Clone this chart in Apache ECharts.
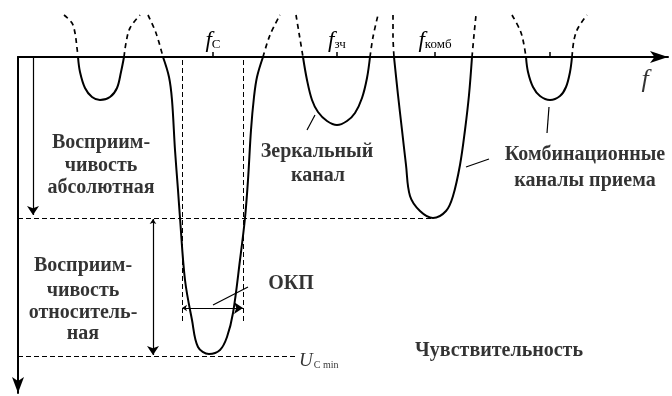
<!DOCTYPE html>
<html><head><meta charset="utf-8">
<script src="https://cdn.jsdelivr.net/npm/echarts@6/dist/echarts.min.js"></script>
<style>html,body{margin:0;padding:0;background:#fff}#c{width:672px;height:396px}</style>
</head><body><div id="c"></div>
<script>
// x: relative frequency units, y: attenuation depth below the frequency axis (downwards)
const ch1Solid = [[60,0],[62,15],[67,31],[74,40],[82,43],[92,40],[99,31],[103,15],[106,0]];
const ch1DashL = [[46,-42],[54,-34],[57,-24],[59,-9],[60,0]];
const ch1DashR = [[106,0],[108,-14],[112,-29],[122,-42]];

const mainSolid = [[145,0],[151,20],[154,43],[157,93],[160,133],[162,161],[167,223],[174,263],[180,290],[191,297],[202,293],[209,280],[215,256],[222,203],[227,161],[230,123],[233,73],[236,40],[239,20],[245,0]];
const mainDashL = [[130,-42],[138,-24],[145,0]];
const mainDashR = [[245,0],[252,-22],[262,-42]];

const mirSolid = [[285,0],[289,23],[294,43],[300,55],[309,64],[319,68],[329,64],[337,56],[344,41],[349,21],[352,0]];
const mirDashL = [[278,-42],[281,-24],[285,0]];
const mirDashR = [[352,0],[355,-20],[360,-42]];

const combSolid = [[376,0],[380,38],[384,73],[388,108],[392,139],[402,154],[415,161],[428,154],[435,139],[442,108],[447,73],[451,38],[454,0]];
const combDashL = [[375,-42],[375,-22],[376,0]];
const combDashR = [[454,0],[456,-22],[458,-42]];

const ch2Solid = [[508,0],[510,15],[515,30],[522,39],[532,43],[542,39],[548,30],[552,15],[554,0]];
const ch2DashL = [[494,-42],[502,-27],[505,-17],[508,0]];
const ch2DashR = [[554,0],[556,-17],[560,-29],[569,-42]];

const freqTicks = [195, 319, 417, 532];
const freqLabelValues = [195, 319, 417];
const freqLabelSubs = ['С', 'зч', 'комб'];

const absLevel = 161;   // absolute receptivity level
const minLevel = 299;   // U_C min level
const okpLeft = 164, okpRight = 225, okpY = 251, okpBottom = 265;

const dashedRefLines = [
  [[0, absLevel], [415, absLevel]],
  [[0, minLevel], [277, minLevel]],
  [[okpLeft, 3], [okpLeft, okpBottom]],
  [[okpRight, 3], [okpRight, okpBottom]]
];
const singleArrows = [[[15, 0], [15, 158]]];
const doubleArrows = [
  [[135, 162], [135, 298]],
  [[okpLeft, okpY], [okpRight, okpY]]
];
const leaders = [
  [[289, 73], [297, 58]],
  [[448, 110], [471, 102]],
  [[531, 50], [529, 76]],
  [[195, 248], [230, 230]]
];

const textNotes = [
  [83, 86, 'Восприим-'], [83, 109, 'чивость'], [83, 131, 'абсолютная'],
  [65, 209, 'Восприим-'], [65, 234, 'чивость'], [65, 256, 'относитель-'], [65, 277, 'ная'],
  [299, 95, 'Зеркальный'], [300, 119, 'канал'],
  [567, 98, 'Комбинационные'], [567, 124, 'каналы приема'],
  [273, 227, 'ОКП'],
  [481, 294, 'Чувствительность']
];
const umin = [281, 304];
const fLabel = [627, 23];

const serif = '"Liberation Serif", "DejaVu Serif", serif';
const black = '#000';

function solid(d){ return {type:'line', data:d, smooth:0.35, symbol:'none', clip:false, lineStyle:{color:black, width:2}, z:3}; }
function dashed(d){ return {type:'line', data:d, smooth:0.35, symbol:'none', clip:false, lineStyle:{color:black, width:1.7, type:[5,4]}, z:3}; }
function toLines(arr){ return arr.map(p => ({coords: p})); }

const series = [
  solid(ch1Solid), dashed(ch1DashL), dashed(ch1DashR),
  solid(mainSolid), dashed(mainDashL), dashed(mainDashR),
  solid(mirSolid), dashed(mirDashL), dashed(mirDashR),
  solid(combSolid), dashed(combDashL), dashed(combDashR),
  solid(ch2Solid), dashed(ch2DashL), dashed(ch2DashR),
  {type:'lines', coordinateSystem:'cartesian2d', data:toLines(dashedRefLines), symbol:'none', lineStyle:{color:black, width:1, type:[5,3], opacity:1}, z:2},
  {type:'lines', coordinateSystem:'cartesian2d', data:toLines(singleArrows), symbol:['none','arrow'], symbolSize:[5,9], lineStyle:{color:black, width:1.2, opacity:1}, z:2},
  {type:'lines', coordinateSystem:'cartesian2d', data:toLines(doubleArrows), symbol:['arrow','arrow'], symbolSize:[5,9], lineStyle:{color:black, width:1.2, opacity:1}, z:2},
  {type:'lines', coordinateSystem:'cartesian2d', data:toLines(leaders), symbol:'none', lineStyle:{color:black, width:1.2, opacity:1}, z:2},
  {type:'scatter', symbolSize:0, silent:true, z:5,
    data: textNotes.map(t => ({value:[t[0], t[1]], name:t[2]})),
    label:{show:true, position:'inside', formatter:'{b}', color:black, fontFamily:serif, fontSize:20, fontWeight:'bold'}},
  {type:'scatter', symbolSize:0, silent:true, z:5,
    data:[{value:umin, name:'U'}],
    label:{show:true, position:'right', distance:0, formatter:'{u|U}{s|C min}', color:black,
      rich:{u:{fontFamily:serif, fontStyle:'italic', fontSize:19, color:black}, s:{fontFamily:serif, fontSize:10, color:black, padding:[9,0,0,1]}}}},
  {type:'scatter', symbolSize:0, silent:true, z:5,
    data:[{value:fLabel, name:'f'}],
    label:{show:true, position:'inside', formatter:'{b}', color:black, fontFamily:serif, fontStyle:'italic', fontSize:26}}
];

const chart = echarts.init(document.getElementById('c'));
chart.setOption({
  animation:false,
  backgroundColor:'#fff',
  grid:{left:18, top:57, right:4, bottom:3},
  xAxis:{type:'value', min:0, max:650, position:'top',
    axisLine:{show:true, onZero:false, symbol:['none','arrow'], symbolSize:[9,18], lineStyle:{color:black, width:2}},
    axisTick:{show:true, customValues:freqTicks, length:5, lineStyle:{color:black, width:1.5}},
    axisLabel:{show:true, customValues:freqLabelValues, margin:5,
      formatter:function(v){ const i = freqLabelValues.indexOf(Math.round(v)); return '{f|f}{s|' + freqLabelSubs[i] + '}'; },
      rich:{f:{fontFamily:serif, fontStyle:'italic', fontSize:23, color:black}, s:{fontFamily:serif, fontSize:13, color:black, padding:[8,0,0,0]}}},
    splitLine:{show:false}},
  yAxis:{type:'value', min:0, max:336, inverse:true,
    axisLine:{show:true, onZero:false, symbol:['arrow','none'], symbolSize:[9,16], lineStyle:{color:black, width:2}},
    axisTick:{show:false}, axisLabel:{show:false}, splitLine:{show:false}},
  series: series
});
</script></body></html>
